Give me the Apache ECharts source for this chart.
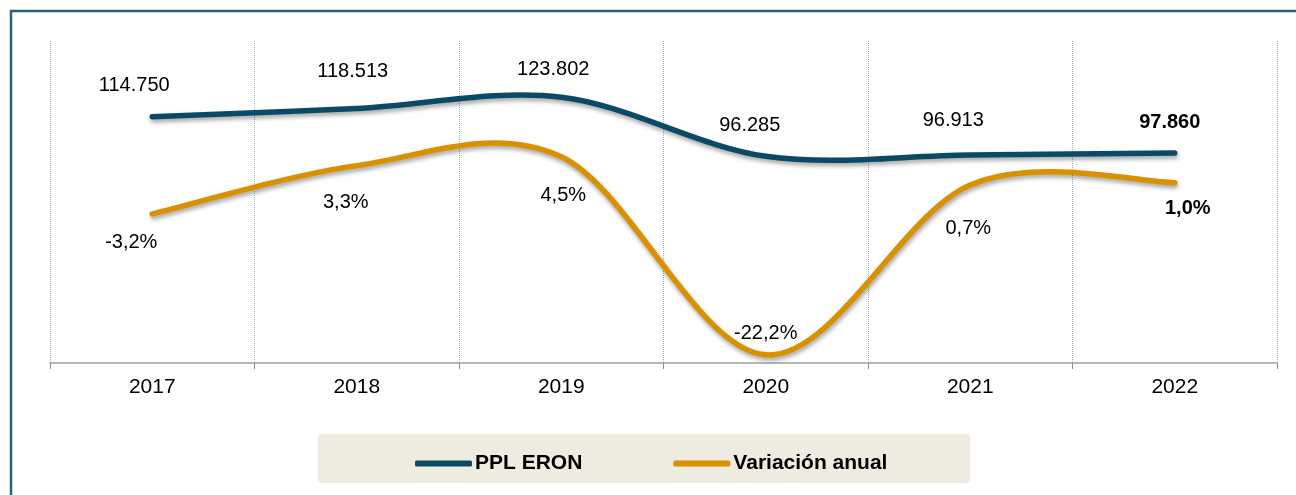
<!DOCTYPE html>
<html>
<head>
<meta charset="utf-8">
<script src="https://cdn.jsdelivr.net/npm/echarts@6/dist/echarts.min.js"></script>
<style>
html,body{margin:0;padding:0;background:#fff;}
#chart{width:1296px;height:495px;}
</style>
</head>
<body>
<div id="chart"></div>
<script>
// ---- data ----
var categories = ['2017', '2018', '2019', '2020', '2021', '2022'];
var pplEron = [114750, 118513, 123802, 96285, 96913, 97860];
var variacionAnual = [-3.2, 3.3, 4.5, -22.2, 0.7, 1.0];
var seriesNames = ['PPL ERON', 'Variación anual'];

// ---- label placement (style only) ----
var blueLabelOffsets = [[-18, -31], [-4, -37], [-8, -28], [-16, -31], [-17, -34], [-5, -30]];
var orangeLabelOffsets = [[-21, 29], [-11, 37], [2, 39], [0, -21], [-2, 44], [13, 26]];

var FONT = "'Liberation Sans', Arial, sans-serif";
var BLUE = '#0b4a66';
var ORANGE = '#d99100';

function fmtThousands(v) {
  return String(v).replace(/\B(?=(\d{3})+(?!\d))/g, '.');
}
function fmtPct(v) {
  return v.toFixed(1).replace('.', ',') + '%';
}

function buildData(values, offsets, formatter) {
  return values.map(function (v, i) {
    var last = i === values.length - 1;
    return {
      value: v,
      label: {
        offset: offsets[i],
        fontWeight: last ? 'bold' : 'normal',
        formatter: formatter(v)
      }
    };
  });
}

var shadow = {shadowColor: 'rgba(0,0,0,0.35)', shadowBlur: 4, shadowOffsetX: 1, shadowOffsetY: 3};

// Excel-like (Catmull-Rom) smoothed curve drawn through the axis coordinates, as one path
function smoothCurve(values, color) {
  return function (params, api) {
    if (params.dataIndex !== 0) return null;
    var n = values.length;
    var P = [];
    for (var k = 0; k < n; k++) P.push(api.coord([k, values[k]]));
    var t = 1 / 6;
    var d = 'M' + P[0][0] + ' ' + P[0][1];
    for (var i = 0; i < n - 1; i++) {
      var p0 = P[Math.max(0, i - 1)], p1 = P[i], p2 = P[i + 1], p3 = P[Math.min(n - 1, i + 2)];
      d += ' C' + (p1[0] + (p2[0] - p0[0]) * t) + ' ' + (p1[1] + (p2[1] - p0[1]) * t) +
           ' ' + (p2[0] - (p3[0] - p1[0]) * t) + ' ' + (p2[1] - (p3[1] - p1[1]) * t) +
           ' ' + p2[0] + ' ' + p2[1];
    }
    return {
      type: 'path',
      shape: {pathData: d},
      style: Object.assign({fill: null, stroke: color, lineWidth: 5.5, lineCap: 'round', lineJoin: 'round'}, shadow),
      silent: true
    };
  };
}

var chart = echarts.init(document.getElementById('chart'), null, {renderer: 'canvas'});
chart.setOption({
  backgroundColor: '#ffffff',
  animation: false,
  textStyle: {fontFamily: FONT},
  graphic: [
    {
      type: 'rect', z: -10, silent: true,
      shape: {x: 11, y: 11, width: 1310, height: 520},
      style: {fill: 'none', stroke: '#2e6174', lineWidth: 2.5}
    },
    {
      type: 'rect', z: -5, silent: true,
      shape: {x: 318, y: 434, width: 652, height: 49, r: 4},
      style: {fill: '#eeebe0'}
    }
  ],
  grid: {left: 50, right: 19, top: 41, height: 322, containLabel: false},
  legend: {
    left: 410, top: 448,
    itemWidth: 57, itemHeight: 6, itemGap: 91,
    icon: 'roundRect',
    textStyle: {fontFamily: FONT, fontSize: 21, fontWeight: 'bold', color: '#000', padding: [0, 0, 0, -2]},
    data: [
      {name: seriesNames[0], itemStyle: {color: BLUE, opacity: 1}},
      {name: seriesNames[1], itemStyle: {color: ORANGE, opacity: 1}}
    ],
    selectedMode: false
  },
  xAxis: {
    type: 'category',
    data: categories,
    boundaryGap: true,
    axisLine: {lineStyle: {color: '#a0a0a0', width: 1.5}},
    axisTick: {show: true, length: 6, lineStyle: {color: '#8c8c8c'}},
    axisLabel: {fontFamily: FONT, fontSize: 21, color: '#000', margin: 14},
    splitLine: {show: true, lineStyle: {color: '#93b2dc', type: 'dotted', width: 1}}
  },
  yAxis: [
    {type: 'value', min: 0, max: 150000, show: false, splitLine: {show: false}},
    {type: 'value', min: -23.3, max: 20.1, show: false, splitLine: {show: false}}
  ],
  series: [
    {
      type: 'custom',
      yAxisIndex: 0,
      renderItem: smoothCurve(pplEron, BLUE),
      encode: {x: 0, y: 1},
      silent: true,
      z: 2,
      data: pplEron.map(function (v, i) { return [i, v]; })
    },
    {
      type: 'custom',
      yAxisIndex: 1,
      renderItem: smoothCurve(variacionAnual, ORANGE),
      encode: {x: 0, y: 1},
      silent: true,
      z: 2,
      data: variacionAnual.map(function (v, i) { return [i, v]; })
    },
    {
      name: seriesNames[0],
      type: 'line',
      yAxisIndex: 0,
      symbol: 'circle', symbolSize: 0.1, showSymbol: true,
      itemStyle: {color: 'rgba(0,0,0,0)', borderWidth: 0},
      lineStyle: {color: BLUE, width: 0, opacity: 0},
      label: {show: true, position: 'inside', fontFamily: FONT, fontSize: 20, color: '#000'},
      emphasis: {disabled: true},
      silent: true,
      z: 3,
      data: buildData(pplEron, blueLabelOffsets, fmtThousands)
    },
    {
      name: seriesNames[1],
      type: 'line',
      yAxisIndex: 1,
      symbol: 'circle', symbolSize: 0.1, showSymbol: true,
      itemStyle: {color: 'rgba(0,0,0,0)', borderWidth: 0},
      lineStyle: {color: ORANGE, width: 0, opacity: 0},
      label: {show: true, position: 'inside', fontFamily: FONT, fontSize: 20, color: '#000'},
      emphasis: {disabled: true},
      silent: true,
      z: 3,
      data: buildData(variacionAnual, orangeLabelOffsets, fmtPct)
    }
  ]
});
</script>
</body>
</html>
